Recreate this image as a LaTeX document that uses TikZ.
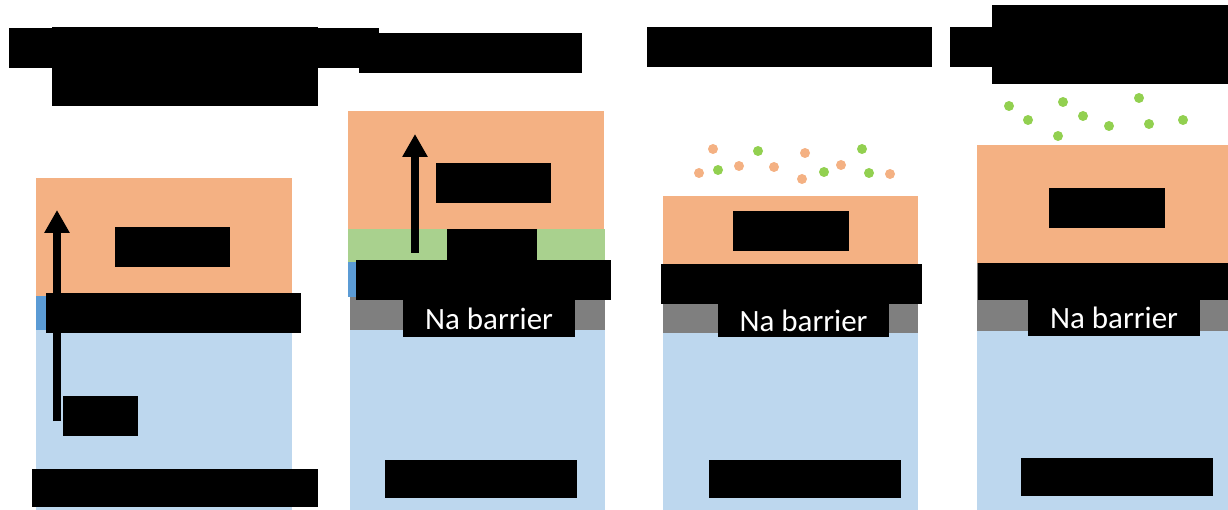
\documentclass[tikz,border=0pt]{standalone}
\usepackage{fontspec}
\setmainfont{Carlito}
\usetikzlibrary{arrows.meta,positioning}
\definecolor{film}{HTML}{F4B183}
\definecolor{glass}{HTML}{BDD7EE}
\definecolor{oxide}{HTML}{5B9BD5}
\definecolor{mixed}{HTML}{A9D18E}
\definecolor{barrier}{HTML}{7F7F7F}
\definecolor{speck}{HTML}{92D050}

\begin{document}
\begin{tikzpicture}[x=1pt, y=-1pt,
    hidden/.style={rectangle, fill=black, inner sep=0pt, text=white, font=\fontsize{31}{34}\selectfont},
    flow/.style={-{Triangle[width=24pt,length=23pt]}, line width=8pt},
    dotA/.style={fill=film},
    dotB/.style={fill=speck}
]
\useasboundingbox (0,0) rectangle (1228,510);

% Panel 1
\fill[film] (36,178) rectangle (292,296);
\fill[oxide] (36,296) rectangle (292,330);
\fill[glass] (36,330) rectangle (292,510);
\draw[flow] (57,421) -- (57,210);
\node[hidden, minimum width=370pt, minimum height=40pt] (head1a) at (194,48) {};
\node[hidden, minimum width=266pt, minimum height=79pt] (head1b) at (185,66.5) {};
\node[hidden, minimum width=115pt, minimum height=40pt] (film1) at (172.5,247) {};
\node[hidden, minimum width=255pt, minimum height=40pt] (strip1) at (173.5,313) {};
\node[hidden, minimum width=75pt, minimum height=40pt] (glass1) at (100.5,416) {};
\node[hidden, minimum width=286pt, minimum height=38pt] (sub1) at (175,488) {};

% Panel 2
\fill[film] (348,111) rectangle (604,229);
\fill[mixed] (348,229) rectangle (605,262);
\fill[oxide] (348,262) rectangle (605,297);
\fill[barrier] (350,297) rectangle (605,330);
\fill[glass] (350,330) rectangle (605,510);
\draw[flow] (415,253) -- (415,134);
\node[hidden, minimum width=223pt, minimum height=40pt] (head2) at (470.5,53) {};
\node[hidden, minimum width=115pt, minimum height=40pt] (film2) at (493.5,183) {};
\node[hidden, minimum width=90pt, minimum height=33pt] (mix2) at (492,245.5) {};
\node[hidden, minimum width=255pt, minimum height=40pt] (strip2) at (483.5,280) {};
\node[hidden, minimum width=172pt, minimum height=37pt] (na2) at (489,318.5) {Na barrier};
\node[hidden, minimum width=192pt, minimum height=38pt] (sub2) at (481,479) {};

% Panel 3
\fill[film] (663,196) rectangle (918,267);
\fill[barrier] (663,267) rectangle (918,333);
\fill[glass] (663,333) rectangle (918,510);
\foreach \px/\py in {713/149, 699/173, 739/166, 774/167, 805/153, 802/179, 841/165, 890/174}
    \fill[dotA] (\px,\py) circle (5pt);
\foreach \px/\py in {758/151, 718/170, 824/172, 862/149, 869/173}
    \fill[dotB] (\px,\py) circle (5pt);
\node[hidden, minimum width=285pt, minimum height=40pt] (head3) at (789.5,47) {};
\node[hidden, minimum width=116pt, minimum height=40pt] (film3) at (791,231) {};
\node[hidden, minimum width=261pt, minimum height=40pt] (strip3) at (791.5,284) {};
\node[hidden, minimum width=171pt, minimum height=33pt] (na3) at (803.5,320.5) {Na barrier};
\node[hidden, minimum width=192pt, minimum height=38pt] (sub3) at (805,479) {};

% Panel 4
\fill[film] (977,145) rectangle (1228,263);
\fill[barrier] (977,263) rectangle (1228,331);
\fill[glass] (977,331) rectangle (1228,510);
\foreach \px/\py in {1009/106, 1028/120, 1063/102, 1058/136, 1083/116, 1109/126, 1139/98, 1149/124, 1183/120}
    \fill[dotB] (\px,\py) circle (5pt);
\node[hidden, minimum width=278pt, minimum height=40pt] (head4a) at (1089,47) {};
\node[hidden, minimum width=236pt, minimum height=79pt] (head4b) at (1110,44.5) {};
\node[hidden, minimum width=116pt, minimum height=40pt] (film4) at (1107,208) {};
\node[hidden, minimum width=250pt, minimum height=37pt] (strip4) at (1103,281.5) {};
\node[hidden, minimum width=172pt, minimum height=36pt] (na4) at (1114,318) {Na barrier};
\node[hidden, minimum width=192pt, minimum height=38pt] (sub4) at (1117,477) {};

\end{tikzpicture}
\end{document}
